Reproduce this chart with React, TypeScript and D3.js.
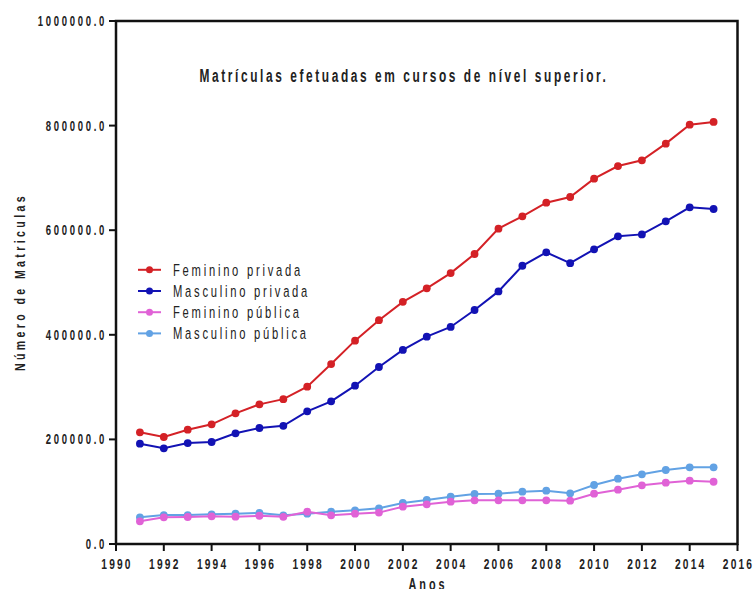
import React from "react";
import * as d3 from "d3";

const years = [1991,1992,1993,1994,1995,1996,1997,1998,1999,2000,2001,2002,2003,2004,2005,2006,2007,2008,2009,2010,2011,2012,2013,2014,2015];
const femininoPrivada = [213600,204600,218600,228800,249800,267000,277000,300800,344000,388800,428000,463000,488800,518000,554500,603000,626500,652600,663500,698500,722700,733600,765500,801800,807000];
const masculinoPrivada = [191800,183000,193000,195000,211600,221800,226000,253700,272800,302700,338400,371000,396400,415000,447400,483000,532000,557600,537000,563400,588300,592000,617000,643800,640500];
const femininoPublica = [43400,51000,51600,53000,52300,54000,52000,61800,54800,58000,60000,71400,75800,81000,83500,83500,83500,83500,82900,96200,103900,112200,117300,121000,119000];
const masculinoPublica = [51000,55400,55400,56700,58000,59300,54800,58000,61800,64400,68200,78400,84100,90500,95600,96200,100000,102000,96900,112800,124900,133200,141500,146600,146600];
const seriesNames = ["Feminino privada", "Masculino privada", "Feminino pública", "Masculino pública"];
const seriesColors = ["#d42126", "#1212b4", "#e062d6", "#62a2e4"];
const xTicks = [1990,1992,1994,1996,1998,2000,2002,2004,2006,2008,2010,2012,2014,2016];
const yTicks = [0,200000,400000,600000,800000,1000000];

const FONT = "'Liberation Sans', Arial, sans-serif";
const SX = 0.68;

type CTextProps = {
  x: number; y: number; size: number; spacing: number; anchor?: "start" | "middle" | "end";
  bold?: boolean; rotate?: number; children: React.ReactNode;
};

function CText({ x, y, size, spacing, anchor = "start", bold = false, rotate = 0, children }: CTextProps) {
  return (
    <text
      transform={`translate(${x},${y}) rotate(${rotate}) scale(${SX},1)`}
      textAnchor={anchor}
      fontFamily={FONT}
      fontWeight={bold ? "bold" : "normal"}
      fontSize={size}
      letterSpacing={spacing / SX}
      fill="#222"
    >
      {children}
    </text>
  );
}

export default function App() {
  const W = 754, H = 589;
  const left = 116, right = 737.5, top = 21, bottom = 544;
  const x = d3.scaleLinear().domain([1990, 2016]).range([left, right]);
  const y = d3.scaleLinear().domain([0, 1000000]).range([bottom, top]);
  const all = [femininoPrivada, masculinoPrivada, femininoPublica, masculinoPublica];
  const line = d3.line<number>().x((_, i) => x(years[i])).y(d => y(d));
  const drawOrder = [3, 2, 1, 0];

  return (
    <svg width={W} height={H} style={{ position: "absolute", left: 0, top: 0, background: "#fff" }}>
      <rect x={0} y={0} width={W} height={H} fill="#fff" />
      {drawOrder.map(si => (
        <g key={si}>
          <path d={line(all[si]) || ""} fill="none" stroke={seriesColors[si]} strokeWidth={2} />
          {all[si].map((v, i) => (
            <circle key={i} cx={x(years[i])} cy={y(v)} r={3.9} fill={seriesColors[si]} />
          ))}
        </g>
      ))}
      {/* frame */}
      <rect x={left} y={top} width={right - left} height={bottom - top} fill="none" stroke="#111" strokeWidth={2.5} />
      {/* y ticks */}
      {yTicks.map(t => (
        <g key={t}>
          <line x1={left - 7} x2={left} y1={y(t)} y2={y(t)} stroke="#111" strokeWidth={2} />
          <CText x={left - 9} y={y(t) + 5} size={14} spacing={2.7} anchor="end" bold>
            {d3.format(".1f")(t)}
          </CText>
        </g>
      ))}
      {/* x ticks */}
      {xTicks.map(t => (
        <g key={t}>
          <line x1={x(t)} x2={x(t)} y1={bottom} y2={bottom + 7} stroke="#111" strokeWidth={2} />
          <CText x={x(t) + 1} y={569} size={15} spacing={2.2} anchor="middle" bold>
            {t}
          </CText>
        </g>
      ))}
      <CText x={428} y={590} size={16} spacing={3} anchor="middle" bold>Anos</CText>
      <CText x={24.5} y={282} size={15.5} spacing={3.4} anchor="middle" bold rotate={-90}>Número de Matriculas</CText>
      <CText x={404} y={82} size={17.5} spacing={2.6} anchor="middle" bold>Matrículas efetuadas em cursos de nível superior.</CText>
      {/* legend */}
      {seriesNames.map((n, i) => {
        const ly = 269.8 + i * 21.2;
        return (
          <g key={n}>
            <line x1={138} x2={161} y1={ly} y2={ly} stroke={seriesColors[i]} strokeWidth={2} />
            <circle cx={149.5} cy={ly} r={3.5} fill={seriesColors[i]} />
            <CText x={173} y={ly + 6} size={16.5} spacing={2.75}>{n}</CText>
          </g>
        );
      })}
    </svg>
  );
}
